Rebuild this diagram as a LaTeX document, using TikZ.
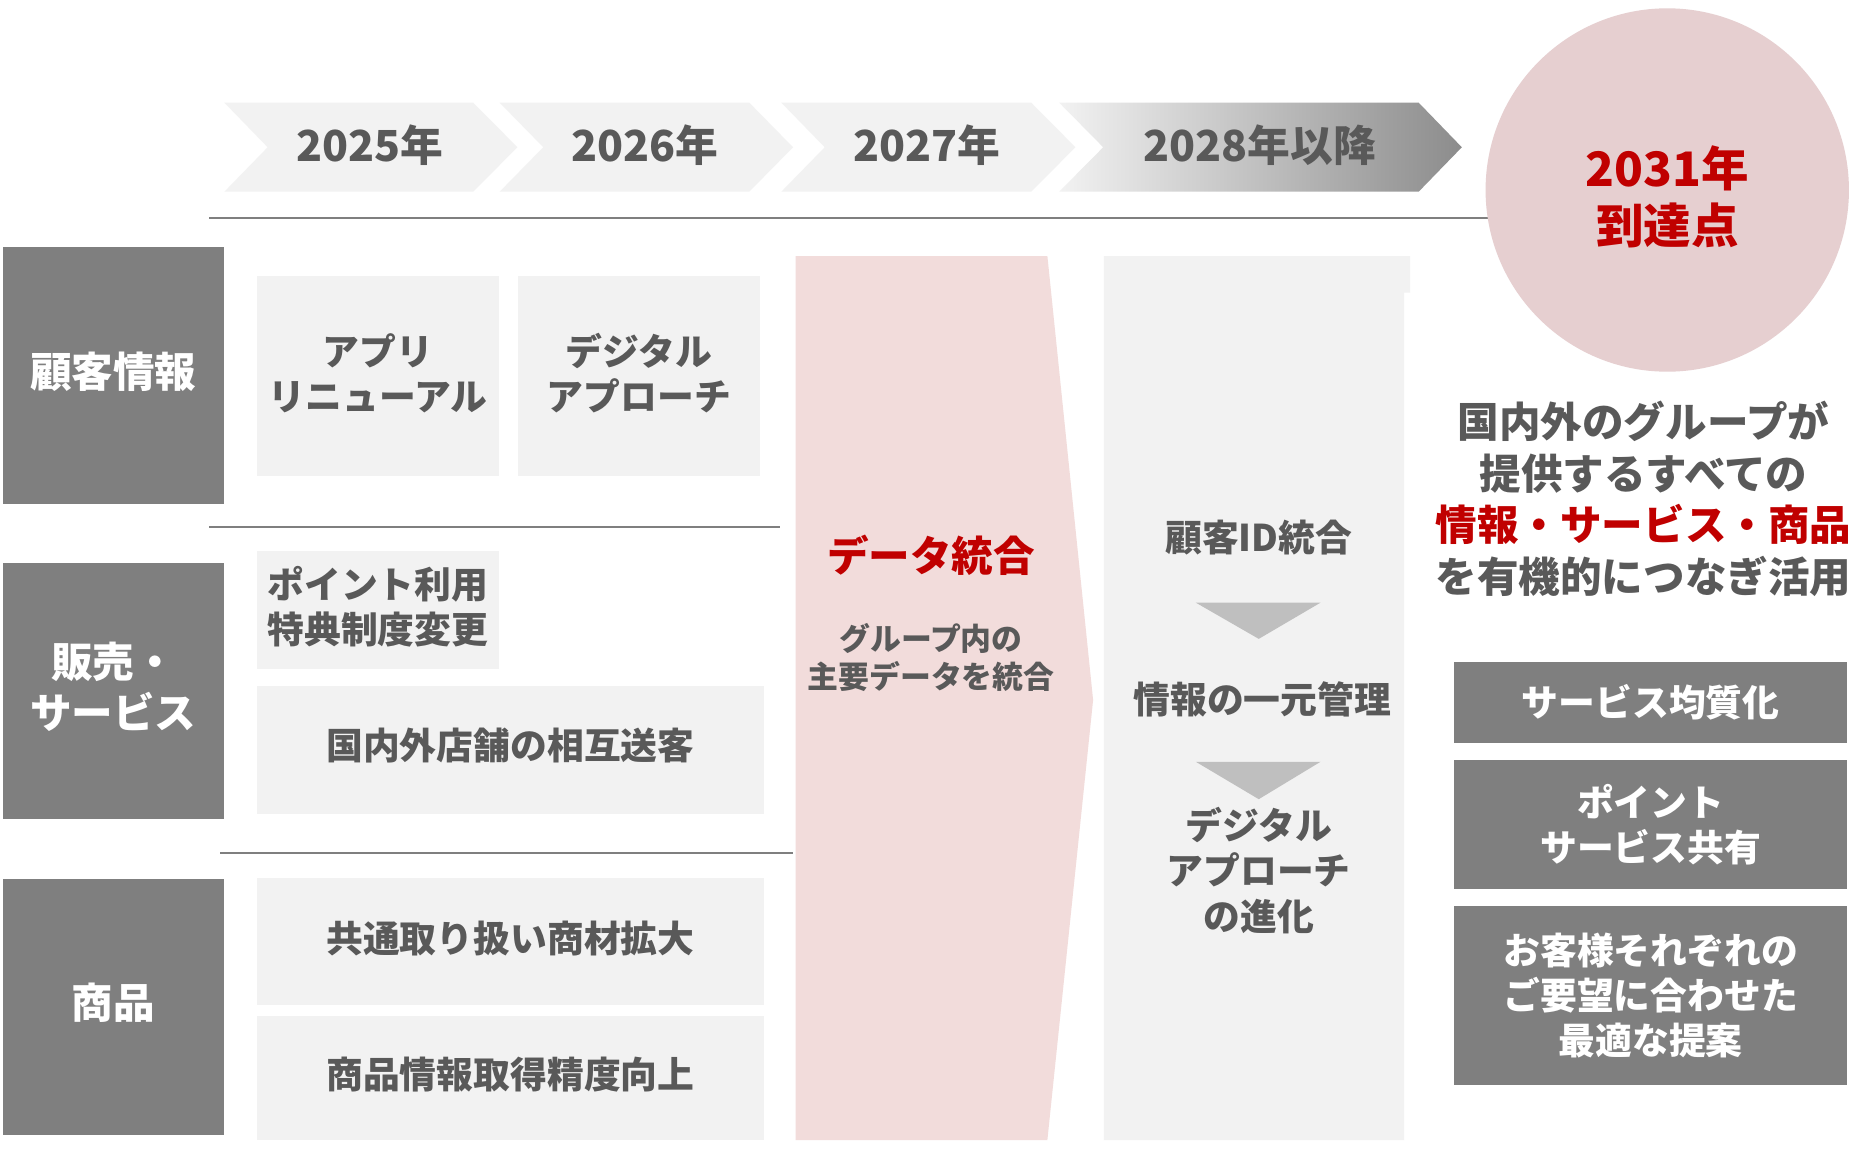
\documentclass[tikz,border=0pt]{standalone}
\usepackage{fontspec}
\setmainfont{Noto Sans CJK JP}
\definecolor{txtgray}{HTML}{595959}
\definecolor{hdrgray}{HTML}{7F7F7F}
\definecolor{boxgray}{HTML}{F2F2F2}
\definecolor{darkgrad}{HTML}{8C8C8C}
\definecolor{jred}{HTML}{C00000}
\definecolor{pinkfill}{HTML}{F2DCDB}
\definecolor{circfill}{HTML}{E6CFD0}
\definecolor{trigray}{HTML}{BFBFBF}
\newcommand{\fs}[2]{\fontsize{#1}{#2}\selectfont\bfseries}
\tikzset{
  hdr/.style={fill=hdrgray, inner sep=0pt, minimum width=186pt, minimum height=216pt},
  hdrtxt/.style={text=white, font=\fs{35}{43}, align=center, inner sep=0pt},
  itembox/.style={fill=boxgray, text=txtgray, font=\fs{31}{38}, align=center, inner sep=0pt},
  rbox/.style={fill=hdrgray, text=white, font=\fs{31}{38}, align=center, inner sep=0pt, minimum width=331pt},
  lbl/.style={text=txtgray, font=\fs{31}{38}, align=center, inner sep=0pt},
  yr/.style={text=txtgray, font=\fs{36}{40}, inner sep=0pt},
  sepline/.style={draw=hdrgray, line width=1.6pt},
  chev/.style={fill=boxgray},
  tri/.style={fill=trigray}
}
\begin{document}
\begin{tikzpicture}[x=1pt,y=-1pt]
\useasboundingbox (0,0) rectangle (1568,980);
\fill[white] (0,0) rectangle (1568,980);

% chevrons
\fill[chev] (189,86.5) -- (398.5,86.5) -- (435.7,124) -- (398.5,161.4) -- (189,161.4) -- (225.4,124) -- cycle;
\fill[chev] (420.8,86.5) -- (631,86.5) -- (667.8,124) -- (631,161.4) -- (420.8,161.4) -- (457.5,124) -- cycle;
\fill[chev] (658,86.5) -- (868.4,86.5) -- (905.6,124) -- (868.4,161.4) -- (658,161.4) -- (694.5,124) -- cycle;
\shade[left color=boxgray, right color=darkgrad] (892,86.5) -- (1194.7,86.5) -- (1231,124) -- (1194.7,161.4) -- (892,161.4) -- (929,124) -- cycle;
\node[yr] (y25) at (311.5,122) {2025年};
\node[yr] (y26) at (543,122) {2026年};
\node[yr] (y27) at (780.5,122) {2027年};
\node[yr] (y28) at (1061,122) {2028年以降};

% lines
\coordinate (tl0) at (176,183.3);
\coordinate (tl1) at (1255,183.3);
\draw[sepline] (tl0) -- (tl1);
\coordinate (s1a) at (176,443.8);
\coordinate (s1b) at (657,443.8);
\draw[sepline] (s1a) -- (s1b);
\coordinate (s2a) at (185.6,718.5);
\coordinate (s2b) at (668,718.5);
\draw[sepline] (s2a) -- (s2b);

% goal circle
\node[circle, fill=circfill, minimum size=306pt, inner sep=0pt] (goal) at (1404,160) {};
\node[text=jred, font=\fs{40}{48}, align=center, inner sep=0pt] (goaltxt) at (1404,166) {2031年\\到達点};

% row headers
\node[hdr] (h1) at (95.5,316) {};
\node[hdrtxt] (h1t) at (95.5,313) {顧客情報};
\node[hdr] (h2) at (95.5,581.7) {};
\node[hdrtxt] (h2t) at (95.5,578.5) {販売・\\サービス};
\node[hdr] (h3) at (95.5,848) {};
\node[hdrtxt] (h3t) at (95.5,844) {商品};

% items
\node[itembox, minimum width=203.6pt, minimum height=168.7pt] (app) at (318.4,316.4) {};
\node[lbl] (apptxt) at (318.4,314) {アプリ\\リニューアル};
\node[itembox, minimum width=204pt, minimum height=168.7pt] (dig) at (538,316.4) {};
\node[lbl] (digtxt) at (538,314) {デジタル\\アプローチ};
\node[itembox, minimum width=203.6pt, minimum height=99.8pt] (pt) at (318.4,513.6) {};
\node[lbl, align=left, anchor=west] (pttxt) at (225,511) {ポイント利用\\特典制度変更};
\node[itembox, minimum width=426.4pt, minimum height=107.2pt] (kk) at (429.8,631.6) {};
\node[lbl] (kktxt) at (429.8,628) {国内外店舗の相互送客};
\node[itembox, minimum width=426.4pt, minimum height=107.2pt] (ky) at (429.8,793) {};
\node[lbl] (kytxt) at (429.8,790) {共通取り扱い商材拡大};
\node[itembox, minimum width=426.4pt, minimum height=104.4pt] (sh) at (429.8,908) {};
\node[lbl] (shtxt) at (429.8,905) {商品情報取得精度向上};

% pink data integration arrow
\fill[pinkfill] (670,215.6) -- (882,215.6) -- (920.5,589.5) -- (882,960) -- (670,960) -- cycle;
\node[text=jred, font=\fs{35}{40}, inner sep=0pt] (dt) at (784,468) {データ統合};
\node[lbl, font=\fs{26}{32}] (dtsub) at (784,554) {グループ内の\\主要データを統合};

% column 2028
\fill[boxgray] (929.6,215.6) -- (1187.4,215.6) -- (1187.4,246.5) -- (1182.5,246.5) -- (1182.5,960) -- (929.6,960) -- cycle;
\node[lbl] (c1) at (1060,453) {顧客ID統合};
\fill[tri] (1007,507.5) -- (1112,507.5) -- (1060,538) -- cycle;
\node[lbl] (c2) at (1063,589) {情報の一元管理};
\fill[tri] (1007,641.5) -- (1112,641.5) -- (1060,673) -- cycle;
\node[lbl] (c3) at (1060,733) {デジタル\\アプローチ\\の進化};

% right texts
\node[lbl, font=\fs{35}{43.3}] (goaldesc) at (1384,420) {国内外のグループが\\提供するすべての\\{\color{jred}情報・サービス・商品}\\を有機的につなぎ活用};
\node[rbox, minimum height=68pt] (r1) at (1390,591.5) {サービス均質化};
\node[rbox, minimum height=109pt] (r2) at (1390,694.5) {ポイント\\サービス共有};
\node[rbox, minimum height=151.3pt] (r3) at (1390,838.4) {お客様それぞれの\\ご要望に合わせた\\最適な提案};
\end{tikzpicture}
\end{document}
